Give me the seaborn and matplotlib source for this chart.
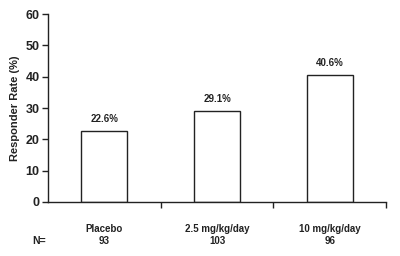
import matplotlib
matplotlib.use("Agg")
import matplotlib.pyplot as plt
import seaborn as sns
import pandas as pd

categories = ["Placebo", "2.5 mg/kg/day", "10 mg/kg/day"]
n_values = [93, 103, 96]
rates = [22.6, 29.1, 40.6]
value_labels = ["22.6%", "29.1%", "40.6%"]

sns.set_style("ticks")
plt.rcParams['font.family'] = ['Liberation Sans', 'DejaVu Sans']

df = pd.DataFrame({"cat": categories, "rate": rates})

fig = plt.figure(figsize=(4, 2.56), dpi=100)
ax = fig.add_axes([0.12, 0.211, 0.845, 0.734])
sns.barplot(data=df, x="cat", y="rate", ax=ax, color="white",
            edgecolor="#222222", linewidth=1.0, width=0.41, saturation=1)

for i, (v, lab) in enumerate(zip(rates, value_labels)):
    ax.text(i, v + 2.2, lab, ha="center", va="bottom", fontsize=7,
            fontweight="bold", color="#222222")

ax.set_xlim(-0.5, 2.5)
ax.set_ylim(0, 60)
ax.set_yticks([0, 10, 20, 30, 40, 50, 60])
ax.tick_params(axis="y", labelsize=9, length=4, width=1, color="#222222",
               labelcolor="#222222", pad=2)
for t in ax.get_yticklabels():
    t.set_fontweight("bold")

ax.set_xticks([0, 1, 2])
ax.set_xticklabels([f"{c}\n{n}" for c, n in zip(categories, n_values)],
                   fontsize=7, fontweight="bold", color="#222222",
                   linespacing=1.25)
ax.tick_params(axis="x", length=0, pad=16)
ax.set_xticks([0.5, 1.5, 2.5], minor=True)
ax.tick_params(axis="x", which="minor", length=4, width=1, color="#222222")

ax.set_xlabel("")
ax.set_ylabel("Responder Rate (%)", fontsize=8, fontweight="bold",
              color="#222222", labelpad=4)

for s in ["top", "right"]:
    ax.spines[s].set_visible(False)
for s in ["left", "bottom"]:
    ax.spines[s].set_color("#222222")
    ax.spines[s].set_linewidth(1.0)

fig.text(32, 256 - 241, "N=", transform=None, fontsize=7.5, fontweight="bold",
         color="#222222", ha="left", va="center")

fig.savefig("out.png", dpi=100)
